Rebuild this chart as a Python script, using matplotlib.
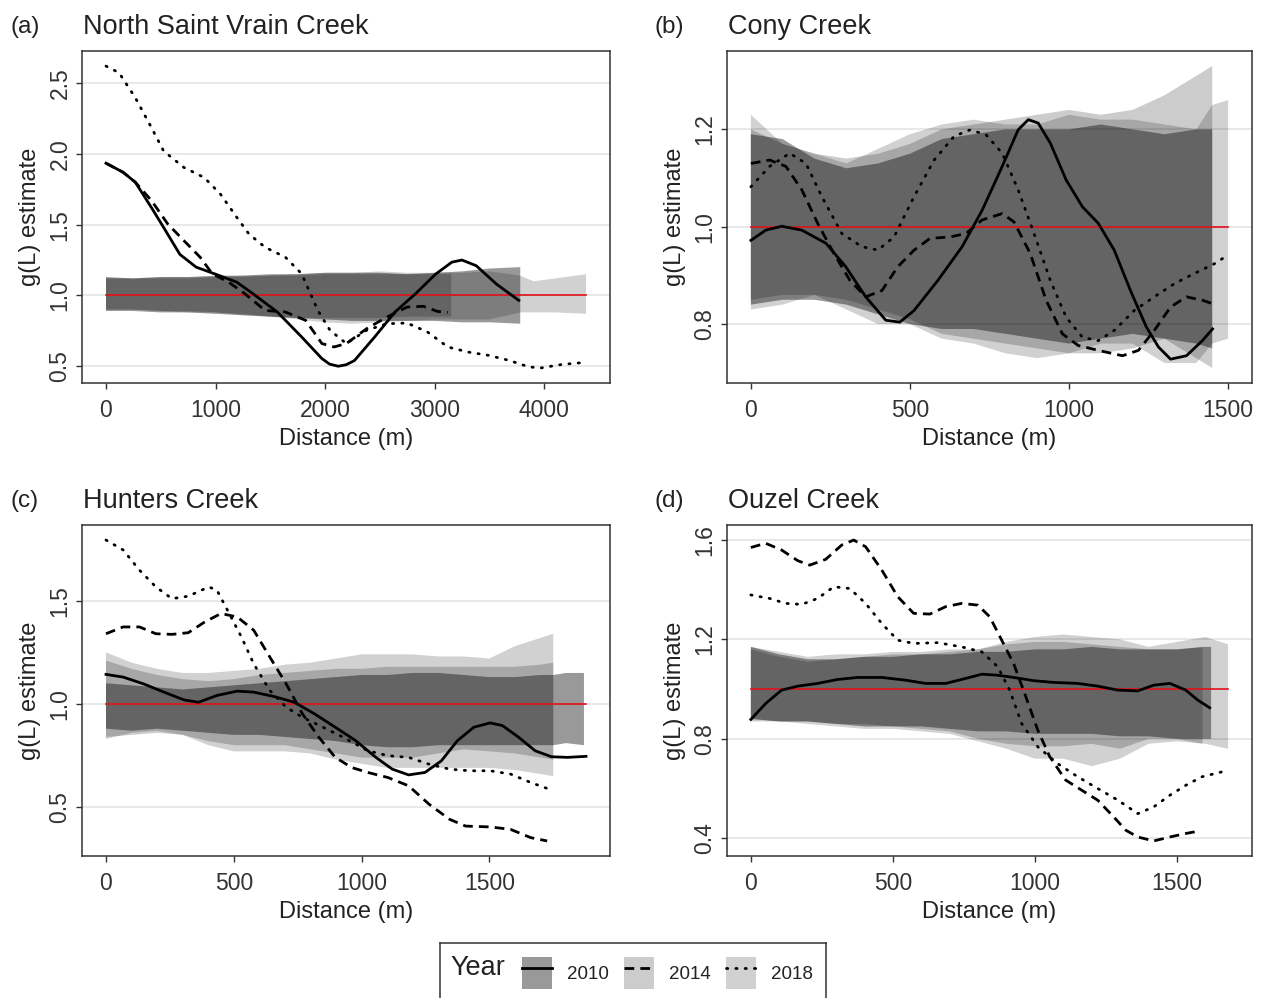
import matplotlib
matplotlib.use("Agg")
import matplotlib.pyplot as plt
from matplotlib.patches import Patch
from matplotlib.lines import Line2D

plt.rcParams['font.family'] = ['Liberation Sans', 'DejaVu Sans']

YEARS = ["2010", "2014", "2018"]
NULL_G = 1.0  # g(L) under complete spatial randomness

# ---------------- North Saint Vrain Creek ----------------
nsv_d_2010 = [0, 156, 267, 415, 526, 674, 822, 1007, 1193, 1341, 1563, 1785, 1970, 2040, 2119,
              2190, 2267, 2452, 2637, 2822, 3007, 3156, 3248, 3378, 3563, 3767]
nsv_g_2010 = [1.934, 1.87, 1.80, 1.62, 1.48, 1.29, 1.20, 1.148, 1.094, 1.012, 0.883, 0.707, 0.554,
              0.515, 0.50, 0.51, 0.54, 0.707, 0.883, 1.01, 1.15, 1.235, 1.25, 1.21, 1.08, 0.965]
nsv_d_2014 = [0, 156, 267, 415, 563, 711, 859, 970, 1119, 1267, 1452, 1637, 1822, 1970, 2081,
              2193, 2378, 2563, 2748, 2896, 3026, 3119]
nsv_g_2014 = [1.934, 1.87, 1.80, 1.67, 1.505, 1.387, 1.27, 1.153, 1.094, 1.012, 0.894, 0.883,
              0.824, 0.66, 0.636, 0.66, 0.765, 0.847, 0.918, 0.923, 0.887, 0.88]
nsv_d_2018 = [0, 119, 267, 415, 526, 711, 896, 1044, 1193, 1304, 1452, 1637, 1785, 1933, 2044,
              2193, 2378, 2563, 2748, 2933, 3119, 3304, 3489, 3674, 3859, 3970, 4156, 4359]
nsv_g_2018 = [2.62, 2.573, 2.397, 2.185, 2.02, 1.904, 1.833, 1.716, 1.552, 1.434, 1.34, 1.27,
              1.153, 0.894, 0.754, 0.66, 0.754, 0.80, 0.805, 0.742, 0.636, 0.60, 0.577, 0.542,
              0.495, 0.488, 0.512, 0.526]

nsv_env_d_2010 = [0, 250, 500, 750, 1000, 1250, 1500, 1750, 2000, 2250, 2500, 2750, 3000, 3250, 3500, 3780]
nsv_env_up_2010 = [1.13, 1.12, 1.13, 1.13, 1.14, 1.14, 1.15, 1.15, 1.16, 1.16, 1.16, 1.15, 1.16, 1.17, 1.19, 1.20]
nsv_env_lo_2010 = [0.89, 0.89, 0.88, 0.88, 0.87, 0.86, 0.85, 0.84, 0.83, 0.82, 0.82, 0.82, 0.82, 0.81, 0.81, 0.80]
nsv_env_d_2014 = [0, 250, 500, 750, 1000, 1250, 1500, 1750, 2000, 2250, 2500, 2750, 3000, 3150]
nsv_env_up_2014 = [1.12, 1.12, 1.12, 1.12, 1.13, 1.13, 1.14, 1.14, 1.15, 1.15, 1.15, 1.15, 1.15, 1.15]
nsv_env_lo_2014 = [0.90, 0.90, 0.89, 0.89, 0.88, 0.87, 0.85, 0.84, 0.84, 0.84, 0.84, 0.85, 0.85, 0.85]
nsv_env_d_2018 = [0, 250, 500, 750, 1000, 1250, 1500, 1750, 2000, 2250, 2500, 2750, 3000, 3250,
                  3500, 3780, 3900, 4100, 4380]
nsv_env_up_2018 = [1.12, 1.12, 1.13, 1.13, 1.13, 1.14, 1.14, 1.15, 1.16, 1.16, 1.17, 1.16, 1.16,
                   1.16, 1.17, 1.14, 1.10, 1.12, 1.15]
nsv_env_lo_2018 = [0.90, 0.90, 0.89, 0.88, 0.88, 0.86, 0.85, 0.83, 0.81, 0.80, 0.81, 0.82, 0.83,
                   0.83, 0.83, 0.88, 0.88, 0.88, 0.87]

# ---------------- Cony Creek ----------------
cony_d_2010 = [0, 47, 97, 160, 236, 298, 361, 424, 468, 513, 588, 664, 727, 790, 840, 872, 903,
               941, 991, 1042, 1092, 1142, 1193, 1243, 1281, 1319, 1369, 1419, 1451]
cony_g_2010 = [0.972, 0.993, 1.001, 0.993, 0.966, 0.918, 0.856, 0.808, 0.804, 0.828, 0.89, 0.959,
               1.034, 1.124, 1.199, 1.22, 1.213, 1.172, 1.096, 1.041, 1.007, 0.952, 0.869, 0.794,
               0.753, 0.728, 0.735, 0.766, 0.79]
cony_d_2014 = [0, 59, 110, 160, 210, 261, 311, 361, 412, 462, 513, 563, 626, 676, 727, 790, 827,
               878, 928, 979, 1029, 1092, 1168, 1218, 1268, 1319, 1369, 1419, 1451]
cony_g_2014 = [1.13, 1.137, 1.124, 1.076, 1.007, 0.945, 0.89, 0.856, 0.869, 0.918, 0.952, 0.976,
               0.979, 0.986, 1.014, 1.027, 1.01, 0.945, 0.849, 0.78, 0.756, 0.746, 0.735, 0.746,
               0.787, 0.835, 0.856, 0.849, 0.842]
cony_d_2018 = [0, 59, 122, 173, 223, 286, 349, 399, 450, 513, 576, 639, 689, 739, 790, 840, 890,
               941, 991, 1042, 1092, 1142, 1205, 1268, 1331, 1394, 1457, 1500]
cony_g_2018 = [1.082, 1.124, 1.151, 1.13, 1.062, 0.986, 0.959, 0.952, 0.979, 1.062, 1.137, 1.186,
               1.199, 1.189, 1.151, 1.076, 0.986, 0.89, 0.814, 0.773, 0.766, 0.787, 0.828, 0.856,
               0.883, 0.904, 0.924, 0.942]

cony_env_d_2010 = [0, 100, 200, 300, 400, 500, 600, 700, 800, 900, 1000, 1100, 1200, 1300, 1400, 1450]
cony_env_up_2010 = [1.19, 1.18, 1.14, 1.12, 1.13, 1.15, 1.18, 1.19, 1.20, 1.20, 1.20, 1.21, 1.20, 1.19, 1.20, 1.20]
cony_env_lo_2010 = [0.84, 0.85, 0.85, 0.84, 0.82, 0.80, 0.79, 0.79, 0.78, 0.77, 0.76, 0.77, 0.78, 0.77, 0.76, 0.75]
cony_env_d_2014 = [0, 100, 200, 300, 400, 500, 600, 700, 800, 900, 1000, 1100, 1200, 1300, 1400, 1450]
cony_env_up_2014 = [1.20, 1.17, 1.15, 1.14, 1.15, 1.17, 1.20, 1.21, 1.22, 1.23, 1.24, 1.23, 1.24, 1.27, 1.31, 1.33]
cony_env_lo_2014 = [0.85, 0.86, 0.86, 0.85, 0.83, 0.81, 0.78, 0.77, 0.76, 0.75, 0.74, 0.74, 0.75, 0.77, 0.73, 0.71]
cony_env_d_2018 = [0, 100, 200, 300, 400, 500, 600, 700, 800, 900, 1000, 1100, 1200, 1300, 1400, 1450, 1500]
cony_env_up_2018 = [1.23, 1.17, 1.15, 1.13, 1.16, 1.19, 1.21, 1.22, 1.21, 1.21, 1.23, 1.22, 1.22,
                    1.21, 1.20, 1.25, 1.26]
cony_env_lo_2018 = [0.83, 0.84, 0.86, 0.83, 0.80, 0.80, 0.77, 0.76, 0.74, 0.73, 0.74, 0.76, 0.76,
                    0.72, 0.72, 0.76, 0.77]

# ---------------- Hunters Creek ----------------
hunt_d_2010 = [0, 67, 147, 227, 306, 362, 434, 514, 578, 657, 737, 817, 897, 977, 1056, 1120,
               1184, 1248, 1312, 1375, 1439, 1503, 1551, 1615, 1679, 1743, 1806, 1878]
hunt_g_2010 = [1.143, 1.13, 1.097, 1.057, 1.019, 1.008, 1.041, 1.062, 1.057, 1.036, 1.008, 0.951,
               0.887, 0.822, 0.741, 0.684, 0.656, 0.668, 0.724, 0.822, 0.887, 0.908, 0.895, 0.838,
               0.773, 0.744, 0.741, 0.746]
hunt_d_2014 = [0, 67, 131, 195, 258, 322, 386, 450, 514, 578, 641, 705, 769, 833, 897, 961, 1024,
               1104, 1184, 1264, 1344, 1407, 1503, 1583, 1662, 1726]
hunt_g_2014 = [1.34, 1.373, 1.373, 1.34, 1.337, 1.345, 1.397, 1.438, 1.421, 1.357, 1.227, 1.097,
               0.951, 0.838, 0.741, 0.692, 0.668, 0.643, 0.603, 0.514, 0.441, 0.408, 0.404, 0.392,
               0.352, 0.336]
hunt_d_2018 = [0, 67, 131, 195, 258, 322, 402, 434, 482, 530, 578, 641, 705, 769, 849, 929, 1024,
               1104, 1184, 1264, 1344, 1423, 1503, 1583, 1662, 1734]
hunt_g_2018 = [1.794, 1.746, 1.648, 1.567, 1.51, 1.522, 1.567, 1.551, 1.438, 1.324, 1.194, 1.065,
               0.984, 0.935, 0.887, 0.838, 0.773, 0.749, 0.741, 0.708, 0.684, 0.676, 0.676, 0.66,
               0.619, 0.587]

hunt_env_d_2010 = [0, 100, 200, 300, 400, 500, 600, 700, 800, 900, 1000, 1100, 1200, 1300, 1400,
                   1500, 1600, 1700, 1750, 1800, 1870]
hunt_env_up_2010 = [1.10, 1.09, 1.08, 1.07, 1.08, 1.09, 1.10, 1.11, 1.12, 1.13, 1.14, 1.14, 1.15,
                    1.15, 1.14, 1.13, 1.13, 1.14, 1.14, 1.15, 1.15]
hunt_env_lo_2010 = [0.88, 0.87, 0.88, 0.87, 0.86, 0.85, 0.85, 0.84, 0.83, 0.82, 0.80, 0.79, 0.79,
                    0.80, 0.80, 0.80, 0.80, 0.80, 0.80, 0.81, 0.80]
hunt_env_d_2014 = [0, 100, 200, 300, 400, 500, 600, 700, 800, 900, 1000, 1100, 1200, 1300, 1400,
                   1500, 1600, 1700, 1750]
hunt_env_up_2014 = [1.21, 1.17, 1.14, 1.12, 1.11, 1.12, 1.14, 1.15, 1.16, 1.17, 1.17, 1.18, 1.18,
                    1.18, 1.18, 1.18, 1.18, 1.19, 1.20]
hunt_env_lo_2014 = [0.84, 0.85, 0.86, 0.85, 0.82, 0.80, 0.80, 0.80, 0.78, 0.76, 0.74, 0.74, 0.74,
                    0.76, 0.78, 0.77, 0.76, 0.74, 0.73]
hunt_env_d_2018 = [0, 100, 200, 300, 400, 500, 600, 700, 800, 900, 1000, 1100, 1200, 1300, 1400,
                   1500, 1600, 1700, 1750]
hunt_env_up_2018 = [1.25, 1.20, 1.17, 1.15, 1.15, 1.16, 1.17, 1.19, 1.20, 1.22, 1.24, 1.24, 1.24,
                    1.23, 1.23, 1.22, 1.28, 1.32, 1.34]
hunt_env_lo_2018 = [0.83, 0.86, 0.87, 0.85, 0.80, 0.77, 0.77, 0.77, 0.76, 0.73, 0.71, 0.69, 0.69,
                    0.69, 0.69, 0.69, 0.68, 0.66, 0.65]

# ---------------- Ouzel Creek ----------------
ouz_d_2010 = [0, 52, 108, 165, 235, 306, 376, 461, 545, 615, 686, 756, 813, 869, 925, 996, 1066,
              1151, 1221, 1292, 1362, 1418, 1475, 1531, 1573, 1615]
ouz_g_2010 = [0.878, 0.942, 0.996, 1.012, 1.023, 1.039, 1.047, 1.047, 1.036, 1.023, 1.023, 1.043,
              1.06, 1.056, 1.047, 1.034, 1.027, 1.023, 1.012, 0.996, 0.993, 1.016, 1.023, 0.996,
              0.956, 0.925]
ouz_d_2014 = [0, 52, 108, 165, 207, 263, 320, 362, 404, 461, 517, 573, 630, 686, 742, 799, 841,
              883, 925, 968, 1010, 1052, 1108, 1165, 1221, 1277, 1320, 1362, 1418, 1475, 1531, 1573]
ouz_g_2014 = [1.57, 1.587, 1.56, 1.517, 1.499, 1.522, 1.58, 1.60, 1.573, 1.479, 1.372, 1.305,
              1.302, 1.332, 1.345, 1.338, 1.291, 1.197, 1.103, 0.969, 0.835, 0.728, 0.634, 0.593,
              0.553, 0.486, 0.432, 0.405, 0.389, 0.405, 0.419, 0.428]
ouz_d_2018 = [0, 66, 122, 179, 235, 292, 348, 404, 461, 517, 573, 658, 742, 813, 869, 911, 953,
              1010, 1080, 1151, 1221, 1292, 1362, 1418, 1475, 1531, 1587, 1658]
ouz_g_2018 = [1.379, 1.365, 1.345, 1.341, 1.365, 1.412, 1.405, 1.345, 1.264, 1.197, 1.184, 1.187,
              1.17, 1.15, 1.09, 0.996, 0.862, 0.768, 0.70, 0.647, 0.60, 0.553, 0.499, 0.526,
              0.573, 0.613, 0.647, 0.667]

ouz_env_d_2010 = [0, 100, 200, 300, 400, 500, 600, 700, 800, 900, 1000, 1100, 1200, 1300, 1400,
                  1500, 1600, 1620]
ouz_env_up_2010 = [1.17, 1.14, 1.12, 1.12, 1.13, 1.13, 1.14, 1.14, 1.15, 1.15, 1.16, 1.16, 1.17,
                   1.16, 1.16, 1.16, 1.17, 1.17]
ouz_env_lo_2010 = [0.88, 0.87, 0.87, 0.86, 0.85, 0.85, 0.85, 0.84, 0.83, 0.83, 0.82, 0.82, 0.82,
                   0.81, 0.81, 0.80, 0.80, 0.80]
ouz_env_d_2014 = [0, 100, 200, 300, 400, 500, 600, 700, 800, 900, 1000, 1100, 1200, 1300, 1400,
                  1500, 1590]
ouz_env_up_2014 = [1.16, 1.13, 1.11, 1.12, 1.13, 1.14, 1.14, 1.15, 1.16, 1.18, 1.19, 1.19, 1.18,
                   1.17, 1.16, 1.16, 1.17]
ouz_env_lo_2014 = [0.87, 0.87, 0.87, 0.86, 0.86, 0.85, 0.84, 0.83, 0.80, 0.78, 0.77, 0.77, 0.78,
                   0.76, 0.80, 0.80, 0.78]
ouz_env_d_2018 = [0, 100, 200, 300, 400, 500, 600, 700, 800, 900, 1000, 1100, 1200, 1300, 1400,
                  1500, 1600, 1680]
ouz_env_up_2018 = [1.17, 1.15, 1.13, 1.14, 1.14, 1.15, 1.15, 1.16, 1.16, 1.19, 1.21, 1.22, 1.21,
                   1.20, 1.17, 1.19, 1.21, 1.18]
ouz_env_lo_2018 = [0.88, 0.87, 0.86, 0.85, 0.84, 0.84, 0.83, 0.82, 0.79, 0.76, 0.72, 0.72, 0.69,
                   0.72, 0.78, 0.79, 0.78, 0.76]

# ---------------- panel definitions ----------------
FIG_W, FIG_H = 1262, 998


def rect_px(left, top, right, bottom):
    return [left / FIG_W, 1 - bottom / FIG_H, (right - left) / FIG_W, (bottom - top) / FIG_H]


panels = [
    dict(tag="(a)", title="North Saint Vrain Creek", rect=rect_px(82, 51, 610, 383),
         curves={"2010": (nsv_d_2010, nsv_g_2010), "2014": (nsv_d_2014, nsv_g_2014),
                 "2018": (nsv_d_2018, nsv_g_2018)},
         envs={"2010": (nsv_env_d_2010, nsv_env_lo_2010, nsv_env_up_2010),
               "2014": (nsv_env_d_2014, nsv_env_lo_2014, nsv_env_up_2014),
               "2018": (nsv_env_d_2018, nsv_env_lo_2018, nsv_env_up_2018)},
         xticks=[0, 1000, 2000, 3000, 4000], yticks=[0.5, 1.0, 1.5, 2.0, 2.5]),
    dict(tag="(b)", title="Cony Creek", rect=rect_px(727, 51, 1252, 383),
         curves={"2010": (cony_d_2010, cony_g_2010), "2014": (cony_d_2014, cony_g_2014),
                 "2018": (cony_d_2018, cony_g_2018)},
         envs={"2010": (cony_env_d_2010, cony_env_lo_2010, cony_env_up_2010),
               "2014": (cony_env_d_2014, cony_env_lo_2014, cony_env_up_2014),
               "2018": (cony_env_d_2018, cony_env_lo_2018, cony_env_up_2018)},
         xticks=[0, 500, 1000, 1500], yticks=[0.8, 1.0, 1.2]),
    dict(tag="(c)", title="Hunters Creek", rect=rect_px(82, 525, 610, 856),
         curves={"2010": (hunt_d_2010, hunt_g_2010), "2014": (hunt_d_2014, hunt_g_2014),
                 "2018": (hunt_d_2018, hunt_g_2018)},
         envs={"2010": (hunt_env_d_2010, hunt_env_lo_2010, hunt_env_up_2010),
               "2014": (hunt_env_d_2014, hunt_env_lo_2014, hunt_env_up_2014),
               "2018": (hunt_env_d_2018, hunt_env_lo_2018, hunt_env_up_2018)},
         xticks=[0, 500, 1000, 1500], yticks=[0.5, 1.0, 1.5]),
    dict(tag="(d)", title="Ouzel Creek", rect=rect_px(727, 525, 1252, 856),
         curves={"2010": (ouz_d_2010, ouz_g_2010), "2014": (ouz_d_2014, ouz_g_2014),
                 "2018": (ouz_d_2018, ouz_g_2018)},
         envs={"2010": (ouz_env_d_2010, ouz_env_lo_2010, ouz_env_up_2010),
               "2014": (ouz_env_d_2014, ouz_env_lo_2014, ouz_env_up_2014),
               "2018": (ouz_env_d_2018, ouz_env_lo_2018, ouz_env_up_2018)},
         xticks=[0, 500, 1000, 1500], yticks=[0.4, 0.8, 1.2, 1.6]),
]

# ---------------- styling ----------------
ENV_ALPHA = {"2010": 0.40, "2014": 0.20, "2018": 0.18}
LINE_STYLE = {"2010": dict(linestyle="-"),
              "2014": dict(dashes=(3.5, 2.2)),
              "2018": dict(dashes=(0.45, 2.9), dash_capstyle="round")}
LINE_W = 2.0
FRAME_C = "#333333"
TEXT_C = "#222222"
TICK_C = "#333333"
RED = "#e3121b"


def expand(lo, hi, f=0.05):
    r = hi - lo
    return lo - f * r, hi + f * r


fig = plt.figure(figsize=(FIG_W / 100, FIG_H / 100), dpi=100)

for p in panels:
    ax = fig.add_axes(p["rect"])
    ax.set_axisbelow(True)

    for yr in YEARS:
        d, lo, up = p["envs"][yr]
        ax.fill_between(d, lo, up, facecolor="black", alpha=ENV_ALPHA[yr], lw=0, zorder=1)

    all_d = [x for yr in YEARS for x in p["curves"][yr][0]] + \
            [x for yr in YEARS for x in p["envs"][yr][0]]
    all_g = [v for yr in YEARS for v in p["curves"][yr][1]] + \
            [v for yr in YEARS for v in p["envs"][yr][1]] + \
            [v for yr in YEARS for v in p["envs"][yr][2]]
    dmax = max(all_d)

    ax.plot([0, dmax], [NULL_G, NULL_G], color=RED, lw=1.2, zorder=2)

    for yr in YEARS:
        d, g = p["curves"][yr]
        ax.plot(d, g, color="black", lw=LINE_W, zorder=3, **LINE_STYLE[yr])

    ax.set_xlim(*expand(0, dmax))
    ax.set_ylim(*expand(min(all_g), max(all_g)))

    ax.set_xticks(p["xticks"])
    ax.set_xticklabels([f"{t:d}" for t in p["xticks"]])
    ax.set_yticks(p["yticks"])
    ax.set_yticklabels([f"{t:.1f}" for t in p["yticks"]])
    ax.yaxis.grid(True, color="#e2e2e2", lw=1.1)
    ax.xaxis.grid(False)

    for s in ax.spines.values():
        s.set_color(FRAME_C)
        s.set_linewidth(1.1)
    ax.tick_params(axis="both", direction="out", length=4.5, width=1.0, color=TICK_C,
                   labelsize=16.5, labelcolor=TICK_C)
    ax.tick_params(axis="x", pad=7)
    ax.tick_params(axis="y", pad=3, labelrotation=90)
    for lbl in ax.get_yticklabels():
        lbl.set_va("center")

    ax.set_xlabel("Distance (m)", fontsize=17, color=TEXT_C)
    ax.set_ylabel("g(L) estimate", fontsize=17, color=TEXT_C)
    bbox = ax.get_position()
    h_px = bbox.height * FIG_H
    w_px = bbox.width * FIG_W
    ax.xaxis.set_label_coords(0.5, -56 / h_px)
    ax.xaxis.label.set_va("center")
    ax.yaxis.set_label_coords(-52 / w_px, 0.5)
    ax.yaxis.label.set_va("center")

    left_px = bbox.x0 * FIG_W
    top_px = (1 - bbox.y1) * FIG_H
    title_y = 1 - (top_px - 24) / FIG_H
    fig.text((left_px - 72) / FIG_W, title_y, p["tag"], fontsize=17.5, color=TEXT_C,
             ha="left", va="center")
    fig.text((left_px + 1) / FIG_W, title_y, p["title"], fontsize=19.5, color=TEXT_C,
             ha="left", va="center")

# ---------------- legend ----------------
lax = fig.add_axes(rect_px(440, 943, 826, 1012))
lax.set_xticks([])
lax.set_yticks([])
for s in lax.spines.values():
    s.set_color(FRAME_C)
    s.set_linewidth(1.1)
lax.text(10 / 386, (1012 - 968) / 69, "Year", transform=lax.transAxes, fontsize=19.5,
         color=TEXT_C, ha="left", va="center")
handles = [(Patch(facecolor="black", alpha=ENV_ALPHA[yr], edgecolor="none"),
            Line2D([], [], color="black", lw=LINE_W, **LINE_STYLE[yr])) for yr in YEARS]
lax.legend(handles, YEARS, loc="center left", bbox_to_anchor=(82 / 386, (1012 - 973) / 69),
           ncol=3, frameon=False, fontsize=13.5, handlelength=1.6, handleheight=2.2,
           handletextpad=0.8, columnspacing=0.8, borderaxespad=0, borderpad=0,
           labelcolor=TEXT_C)

fig.savefig("out.png", dpi=100)
